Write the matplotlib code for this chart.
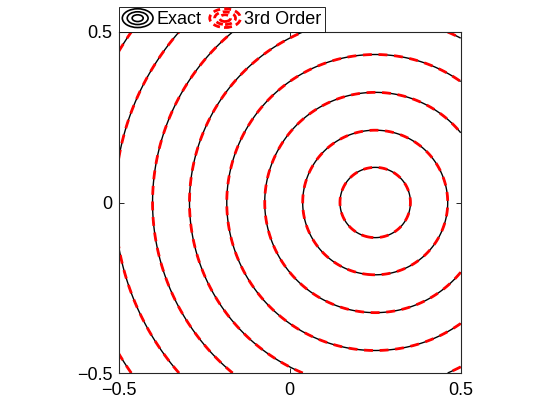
import numpy as np
import matplotlib
matplotlib.use('Agg')
import matplotlib.pyplot as plt
from matplotlib.legend_handler import HandlerBase
from matplotlib.lines import Line2D
from matplotlib.patches import Ellipse

plt.rcParams['font.family'] = ['Liberation Sans', 'DejaVu Sans']

# ── Data ──────────────────────────────────────────────────────────────────
center = (0.25, 0.0)                                   # ring centre
exact_levels = [0.103, 0.212, 0.323, 0.434, 0.543, 0.651, 0.761, 0.871]
approx_levels = [0.103, 0.212, 0.323, 0.434, 0.543, 0.651, 0.761, 0.871]
ticks = [-0.5, 0, 0.5]
tick_labels = ['\u22120.5', '0', '0.5']
labels = ['Exact', '3rd Order']

# ── Field on a grid (distance from the centre) ────────────────────────────
x = np.linspace(-0.5, 0.5, 601)
X, Y = np.meshgrid(x, x)
R = np.hypot(X - center[0], Y - center[1])


class RingHandler(HandlerBase):
    """Legend icon made of concentric ellipses, like MATLAB's contour icon."""
    def __init__(self, color, ls, lw):
        super().__init__()
        self.color, self.ls, self.lw = color, ls, lw

    def create_artists(self, legend, orig_handle, xdescent, ydescent,
                       width, height, fontsize, trans):
        cx = width / 2 - xdescent
        cy = height / 2 - ydescent
        arts = []
        for s in (1.0, 0.68, 0.36):
            e = Ellipse((cx, cy), width * s, height * 1.25 * s, fill=False,
                        ec=self.color, lw=self.lw, ls=self.ls, transform=trans)
            arts.append(e)
        return arts


fig = plt.figure(figsize=(5.6, 4.2), dpi=100)
ax = fig.add_axes([118.7 / 560, 47 / 420, 342 / 560, 341 / 420])

# exact solution (black) with the 3rd-order approximation dashed on top
ax.contour(X, Y, R, levels=exact_levels, colors='black', linewidths=1.0,
           linestyles='solid')
cs = ax.contour(X, Y, R, levels=approx_levels, colors='red', linewidths=2.0)
cs.set_linestyle((0, (3.2, 2.4)))

ax.set_xlim(-0.5, 0.5)
ax.set_ylim(-0.5, 0.5)
ax.set_xticks(ticks, tick_labels)
ax.set_yticks(ticks, tick_labels)
ax.tick_params(direction='in', length=3.5, width=0.6, labelsize=13,
               top=True, right=True, colors='black')
ax.tick_params(axis='x', pad=6.5)
ax.tick_params(axis='y', pad=4.5)
for sp in ax.spines.values():
    sp.set_linewidth(0.8)
    sp.set_color('#262626')

h_exact = Line2D([], [], color='black')
h_approx = Line2D([], [], color='red')
leg = ax.legend([h_exact, h_approx], labels, ncol=2,
                handler_map={h_exact: RingHandler('black', '-', 1.2),
                             h_approx: RingHandler('red', (0, (2.5, 1.5)), 2.0)},
                loc='lower left', bbox_to_anchor=(0, 1), borderaxespad=0,
                fontsize=13, handlelength=1.7, handleheight=0.9,
                handletextpad=0.2, columnspacing=0.45, borderpad=0.2,
                fancybox=False, framealpha=1, edgecolor='black')
leg.get_frame().set_linewidth(0.6)

fig.savefig('out.png', dpi=100)
